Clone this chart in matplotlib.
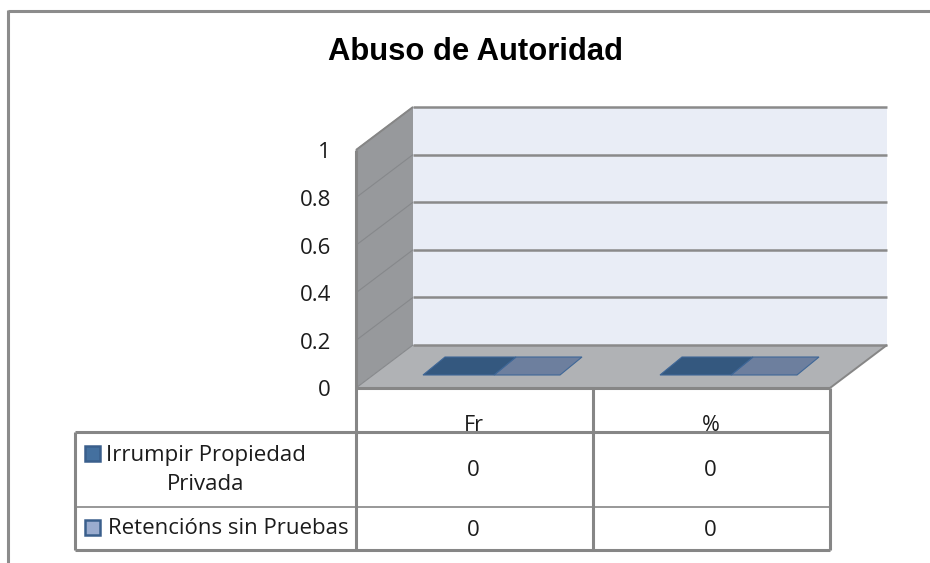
import matplotlib
matplotlib.use("Agg")
import matplotlib.pyplot as plt
from matplotlib.patches import Polygon, Rectangle

title = "Abuso de Autoridad"
categories = ["Fr", "%"]
series_names = ["Irrumpir Propiedad\nPrivada", "Retencións sin Pruebas"]
series_values = [[0, 0], [0, 0]]
tick_values = [0, 0.2, 0.4, 0.6, 0.8, 1]
tick_labels = ["0", "0.2", "0.4", "0.6", "0.8", "1"]

LINE = "#868686"
BAR_COLORS = ["#34587f", "#6d7f9e"]
KEY_COLORS = ["#44709f", "#9aaccf"]
FONT = "Open Sans"
INK = "#1c1c1c"

# pixel geometry of the 3d box
X0, X1 = 356, 830
DX, DY = 57, 43
Y_BASE, Y_TOP = 388, 150
GROUP_W = (X1 - X0) / len(categories)


def val_y(v):
    return Y_BASE - v * (Y_BASE - Y_TOP)


def line(ax, xs, ys, lw=2.2, color=LINE, z=3):
    ax.plot(xs, ys, color=color, lw=lw, solid_capstyle="butt", zorder=z)


fig = plt.figure(figsize=(9.3, 5.63), dpi=100)
ax = fig.add_axes([0, 0, 1, 1])
ax.set_xlim(0, 930)
ax.set_ylim(563, 0)
ax.axis("off")

# outer frame
line(ax, [8, 930], [11, 11], lw=2.2, color="#8c8c8c")
line(ax, [8, 8], [10, 563], lw=2.2, color="#8c8c8c")

ax.text(475, 52, title, ha="center", va="center", fontsize=22.3,
        fontweight="bold", family="Liberation Sans", color="black")

# walls and floor
back_top, back_base = val_y(1) - DY, val_y(0) - DY
ax.add_patch(Rectangle((X0 + DX, back_top), X1 - X0, back_base - back_top,
                       fc="#e9edf6", ec="none", zorder=1))
ax.add_patch(Polygon([(X0, val_y(1)), (X0 + DX, back_top), (X0 + DX, back_base), (X0, Y_BASE)],
                     fc="#97999c", ec="none", zorder=1))
ax.add_patch(Polygon([(X0, Y_BASE), (X1, Y_BASE), (X1 + DX, back_base), (X0 + DX, back_base)],
                     fc="#b0b2b5", ec="none", zorder=1))

for v, lab in zip(tick_values, tick_labels):
    y = val_y(v)
    line(ax, [X0 + DX, X1 + DX], [y - DY, y - DY], lw=1.8, color="#8a8a8a")
    line(ax, [X0, X0 + DX], [y, y - DY], lw=0.8, color="#86888b")
    ax.text(331, y + 3, lab, ha="right", va="center", fontsize=16, family=FONT, color=INK)
line(ax, [X0, X0], [val_y(1), 550], lw=2.2)
line(ax, [X1, X1 + DX], [Y_BASE, back_base], lw=1.4)
line(ax, [X0, X0 + DX], [val_y(1), back_top], lw=1.4)

# bars, both are zero so only the flat top face shows
for s, values in enumerate(series_values):
    for c, v in enumerate(values):
        left = X0 + GROUP_W * c + 67 + s * 71
        right = left + 71 if s == 0 else left + 66
        y_front = val_y(v) - 13
        y_back = y_front - 18
        ax.add_patch(Polygon([(left, y_front), (right, y_front), (right + 22, y_back), (left + 22, y_back)],
                             fc=BAR_COLORS[s], ec="#3f6797", lw=0.8, zorder=4 - s * 0.1))

# data table
TABLE_L = 75
rows = [432, 507, 550]
line(ax, [TABLE_L, X1], [rows[0], rows[0]])
line(ax, [TABLE_L, X1], [rows[1], rows[1]], lw=1.2)
line(ax, [TABLE_L, X1], [rows[2], rows[2]])
line(ax, [TABLE_L, TABLE_L], [rows[0], rows[2]])
line(ax, [X0 + GROUP_W, X0 + GROUP_W], [Y_BASE, rows[2]])
line(ax, [X1, X1], [Y_BASE, rows[2]])
line(ax, [X0, X1], [Y_BASE, Y_BASE])

value_y = [471, 531]
for c, cat in enumerate(categories):
    cx = X0 + GROUP_W * (c + 0.5)
    ax.text(cx - 1, 431, cat, ha="center", va="baseline", fontsize=15.5, family=FONT, color=INK)
    for s, values in enumerate(series_values):
        ax.text(cx - 1, value_y[s], str(values[c]), ha="center", va="center",
                fontsize=16, family=FONT, color=INK)

key_y = [453, 527]
text_x = [206, 228]
text_y = [470, 529]
for s, name in enumerate(series_names):
    ax.add_patch(Rectangle((85, key_y[s] - 7), 15, 15, fc=KEY_COLORS[s], ec="#3a5f8c", lw=1.8, zorder=4))
    ax.text(text_x[s], text_y[s], name, ha="center", va="center", fontsize=16,
            family=FONT, color=INK, linespacing=1.5)

fig.savefig("out.png", dpi=100)
